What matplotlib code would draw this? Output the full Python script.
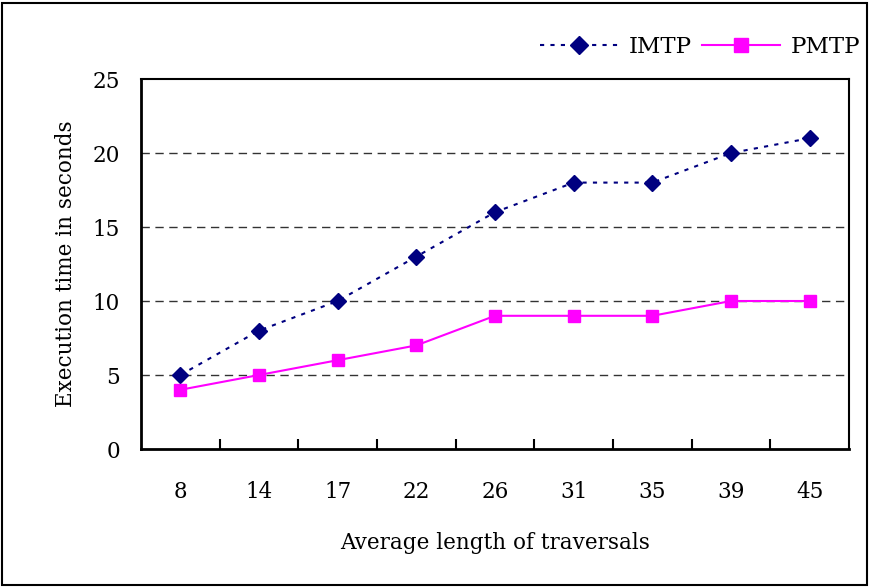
import matplotlib
matplotlib.use("Agg")
import matplotlib.pyplot as plt
from matplotlib.patches import Rectangle

categories = ["8", "14", "17", "22", "26", "31", "35", "39", "45"]
imtp = [5, 8, 10, 13, 16, 18, 18, 20, 21]
pmtp = [4, 5, 6, 7, 9, 9, 9, 10, 10]
yticks = [0, 5, 10, 15, 20, 25]

plt.rcParams['font.family'] = ['DejaVu Serif']
FS = 15.5

fig = plt.figure(figsize=(8.7, 5.87), dpi=100)
ax = fig.add_axes([141/870, 1-449/587, (849-141)/870, (449-79)/587])

x = list(range(len(categories)))
ax.plot(x, imtp, color='#000080', linestyle=(0, (2, 3)), linewidth=1.5,
        marker='D', markersize=8, label='IMTP', zorder=3)
ax.plot(x, pmtp, color='#FF00FF', linestyle='-', linewidth=1.5,
        marker='s', markersize=9, label='PMTP', zorder=3)

ax.set_xlim(-0.5, len(categories)-0.5)
ax.set_ylim(0, 25)
ax.set_yticks(yticks)
ax.set_yticklabels([str(v) for v in yticks], fontsize=FS)
ax.set_xticks(x)
ax.set_xticklabels(categories, fontsize=FS)
ax.set_xticks([i + 0.5 for i in x[:-1]], minor=True)
ax.tick_params(axis='x', which='major', length=0, pad=23)
ax.tick_params(axis='x', which='minor', direction='in', length=7, width=1.5)
ax.tick_params(axis='y', which='major', length=0, pad=15)

for v in yticks[1:-1]:
    ax.axhline(v, color='#333333', linestyle=(0, (6, 4)), linewidth=1.0, zorder=1)

for s in ['left', 'bottom']:
    ax.spines[s].set_linewidth(2)
for s in ['top', 'right']:
    ax.spines[s].set_linewidth(1.5)

ax.set_xlabel('Average length of traversals', fontsize=FS, labelpad=21)
ax.set_ylabel('Execution time in seconds', fontsize=FS, labelpad=11)

ax.legend(loc='center right', bbox_to_anchor=(860/870, 1-47/587),
          bbox_transform=fig.transFigure, ncol=2, frameon=False,
          fontsize=16.5, handlelength=3.4, handletextpad=0.45, columnspacing=0.45,
          borderaxespad=0, borderpad=0, markerscale=1.15)

fig.patches.append(Rectangle((2/870, 2/587), 865/870, 582/587, transform=fig.transFigure,
                             fill=False, edgecolor='black', linewidth=1.5))

fig.savefig('out.png', dpi=100)
